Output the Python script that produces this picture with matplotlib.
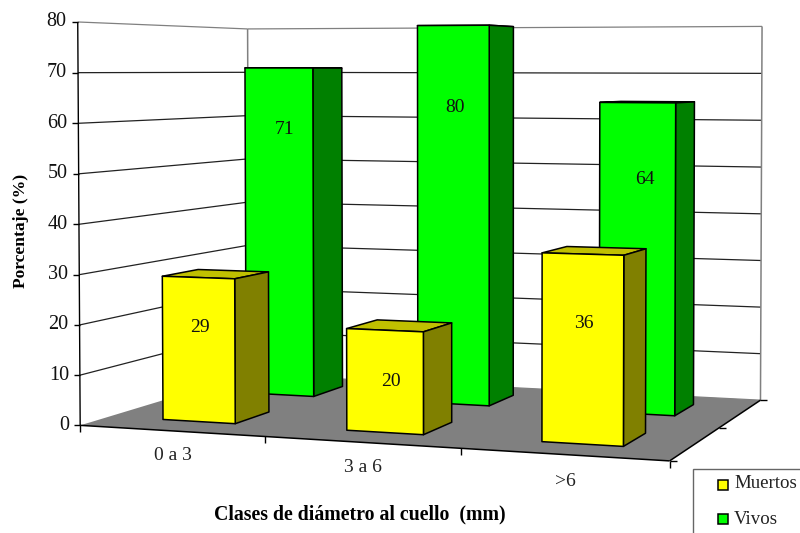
import numpy as np
import matplotlib
matplotlib.use("Agg")
import matplotlib.pyplot as plt
from matplotlib.patches import Rectangle

plt.rcParams['font.family'] = ['Liberation Serif', 'DejaVu Serif']

categories = ['0 a 3', '3 a 6', '>6']
muertos = [29, 20, 36]
vivos = [71, 80, 64]
yticks = [0, 10, 20, 30, 40, 50, 60, 70, 80]

# view calibration: (x, depth, z) -> where that spot sits on the image
box = [(0, 0, 0), (0, 0, 80), (0, 2, 80), (0, 2, 0), (3, 2, 80), (3, 2, 0), (3, 0, 0),
       (0.3, 1.31, 71), (0.7, 1.31, 71), (0.7, 1.72, 71),
       (1.3, 1.31, 80), (1.7, 1.31, 80), (1.7, 1.72, 80),
       (2.3, 1.31, 64), (2.7, 1.31, 64), (2.7, 1.72, 64),
       (0.3, 0.31, 29), (0.7, 0.31, 29), (0.7, 0.72, 29),
       (1.3, 0.31, 20), (1.7, 0.31, 20), (1.7, 0.72, 20),
       (2.3, 0.31, 36), (2.7, 0.31, 36), (2.7, 0.72, 36),
       (0.3, 0.31, 0), (0.7, 0.31, 0), (0.7, 0.72, 0),
       (1.3, 0.31, 0), (1.7, 0.31, 0), (1.7, 0.72, 0),
       (2.3, 0.31, 0), (2.7, 0.31, 0), (2.7, 0.72, 0),
       (0.7, 1.31, 0), (0.7, 1.72, 0), (1.7, 1.31, 0), (1.7, 1.72, 0),
       (2.7, 1.31, 0), (2.7, 1.72, 0)]
img = [(82, 425), (77.5, 22), (248, 27), (249.5, 376), (760, 25), (761, 399), (669.5, 462),
       (245, 69), (313, 69), (341, 69),
       (417.5, 25), (490, 25), (513, 26),
       (601, 105), (677, 105), (695, 103),
       (162.5, 276), (234.5, 278), (267, 270),
       (346.5, 329), (423, 332), (452, 322),
       (541.5, 252), (624, 254), (647, 248),
       (162.5, 419), (235.5, 423.5), (267.5, 412),
       (346.5, 430), (423, 434.5), (452, 423),
       (541.5, 443), (623, 447), (646, 434),
       (315, 397), (341, 388), (490, 406), (513, 393),
       (674, 415), (693.5, 404)]

A = []
b = []
for (X, D, Z), (u, v) in zip(box, img):
    A.append([X, D, Z, 1, 0, 0, 0, 0, -u * X, -u * D, -u * Z])
    A.append([0, 0, 0, 0, X, D, Z, 1, -v * X, -v * D, -v * Z])
    b += [u, v]
p = np.linalg.lstsq(np.array(A, float), np.array(b, float), rcond=None)[0]
P = np.append(p, 1).reshape(3, 4)


def proj(x, d, z):
    q = P @ np.array([x, d, z, 1.0])
    return q[0] / q[2], q[1] / q[2]


def face(corners, color, zorder):
    xy = [proj(*c) for c in corners]
    ax.fill([q[0] for q in xy], [q[1] for q in xy], facecolor=color, edgecolor='black',
            linewidth=1.1, joinstyle='round', zorder=zorder)


def bar(i, row, value, front, side, top, zorder):
    x0, x1 = i + 0.30, i + 0.70
    d0, d1 = row + 0.31, row + 0.72
    face([(x0, d0, value), (x1, d0, value), (x1, d1, value), (x0, d1, value)], top, zorder)
    face([(x1, d0, 0), (x1, d1, 0), (x1, d1, value), (x1, d0, value)], side, zorder)
    face([(x0, d0, 0), (x1, d0, 0), (x1, d0, value), (x0, d0, value)], front, zorder)


def seg(a, c, color='black', lw=1.0, zorder=2):
    ax.plot([a[0], c[0]], [a[1], c[1]], color=color, lw=lw, zorder=zorder,
            solid_capstyle='butt')


fig = plt.figure(figsize=(8, 5.33), dpi=100)
ax = fig.add_axes([0, 0, 1, 1])
ax.set_xlim(0, 800)
ax.set_ylim(533, 0)
ax.axis('off')

# floor
floor = [proj(0, 0, 0), proj(3, 0, 0), proj(3, 2, 0), proj(0, 2, 0)]
ax.fill([q[0] for q in floor], [q[1] for q in floor], color='#808080', lw=0, zorder=1)

# walls and gridlines
for z in yticks[1:]:
    col = '#808080' if z == 80 else '#222222'
    seg(proj(0, 0, z), proj(0, 2, z), col, 0.9)
    seg(proj(0, 2, z), proj(3, 2, z), col, 0.9)
seg(proj(0, 2, 0), proj(0, 2, 80), '#808080', 1.1)
seg(proj(3, 2, 0), proj(3, 2, 80), '#808080', 1.1)
seg(proj(0, 2, 0), proj(3, 2, 0), '#808080', 0.9)

# axes lines
seg(proj(0, 0, 0), proj(0, 0, 80), 'black', 1.0, 3)
seg(proj(0, 0, 0), proj(3, 0, 0), 'black', 1.1, 3)
seg(proj(3, 0, 0), proj(3, 2, 0), 'black', 1.1, 3)

for z in yticks:
    u, v = proj(0, 0, z)
    seg((u - 6, v), (u, v), 'black', 1.0, 3)
    ax.text(u - 11, v, str(z), ha='right', va='center', fontsize=14.5, color='#111111')

for i in range(4):
    u, v = proj(i, 0, 0)
    seg((u, v), (u, v + 7), 'black', 1.0, 3)
for d in range(3):
    u, v = proj(3, d, 0)
    seg((u, v), (u + 7, v), 'black', 1.0, 3)

# bars, back row first
for i, val in enumerate(vivos):
    bar(i, 1, val, '#00FF00', '#008000', '#00C000', 4 + i * 0.1)
for i, val in enumerate(muertos):
    bar(i, 0, val, '#FFFF00', '#808000', '#C0C000', 5 + i * 0.1)

# value labels
muertos_pos = [(200, 327), (391, 381), (584, 323)]
vivos_pos = [(285, 129), (455, 108), (645, 180)]
for val, q in zip(muertos + vivos, muertos_pos + vivos_pos):
    ax.text(q[0], q[1], str(val), ha='center', va='center', fontsize=14, color='#111111', zorder=8)

# category labels
cat_pos = [(173, 455), (363, 468), (565, 481)]
for lab, q in zip(categories, cat_pos):
    ax.text(q[0], q[1], lab, ha='center', va='center', fontsize=14, color='#222222')

ax.text(360, 514, 'Clases de diámetro al cuello  (mm)', ha='center', va='center',
        fontsize=14.3, fontweight='bold')
ax.text(21, 231, 'Porcentaje (%)', ha='center', va='center', rotation=90,
        fontsize=12.6, fontweight='bold')

# legend, runs off the picture on the right and bottom
ax.add_patch(Rectangle((693, 469), 120, 80, facecolor='white', edgecolor='#666666', lw=1.0, zorder=6,
                       clip_on=True))
ax.add_patch(Rectangle((718, 480), 10, 10, facecolor='#FFFF00', edgecolor='black', lw=1.1, zorder=7))
ax.add_patch(Rectangle((718, 514), 10, 10, facecolor='#00FF00', edgecolor='black', lw=1.1, zorder=7))
ax.text(734, 484, 'Muertos', ha='left', va='center', fontsize=13.6, color='#222222', zorder=7)
ax.text(734, 519, 'Vivos', ha='left', va='center', fontsize=13.6, color='#222222', zorder=7)

fig.savefig('out.png', dpi=100)
